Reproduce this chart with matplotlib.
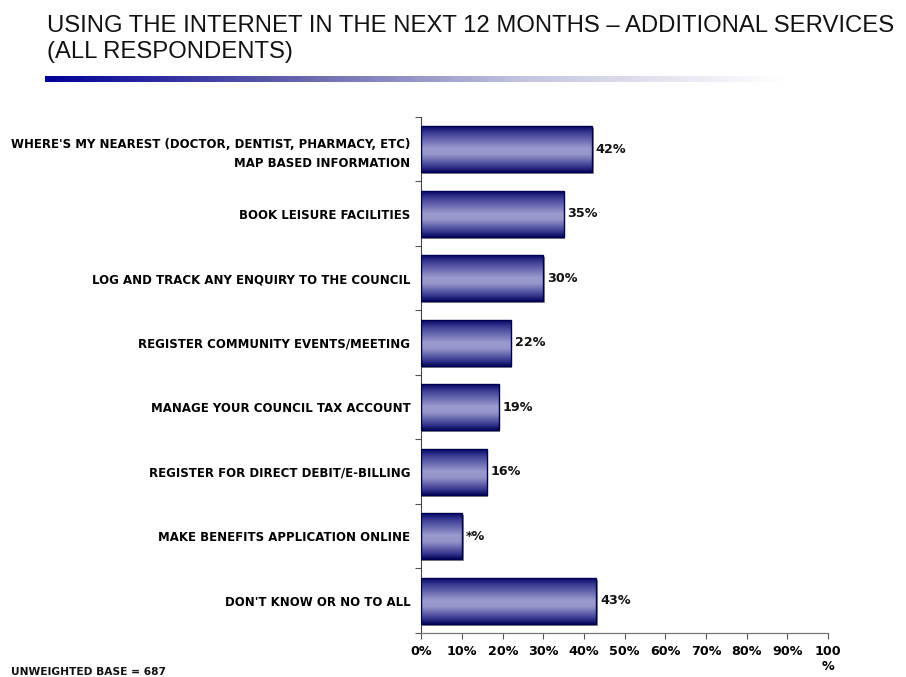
import numpy as np
import matplotlib
matplotlib.use("Agg")
import matplotlib.pyplot as plt
from matplotlib.colors import LinearSegmentedColormap
from matplotlib.patches import Rectangle

categories = [
    "WHERE'S MY NEAREST (DOCTOR, DENTIST, PHARMACY, ETC)\nMAP BASED INFORMATION",
    "BOOK LEISURE FACILITIES",
    "LOG AND TRACK ANY ENQUIRY TO THE COUNCIL",
    "REGISTER COMMUNITY EVENTS/MEETING",
    "MANAGE YOUR COUNCIL TAX ACCOUNT",
    "REGISTER FOR DIRECT DEBIT/E-BILLING",
    "MAKE BENEFITS APPLICATION ONLINE",
    "DON'T KNOW OR NO TO ALL",
]
values = [42, 35, 30, 22, 19, 16, 10, 43]
value_labels = ["42%", "35%", "30%", "22%", "19%", "16%", "*%", "43%"]
x_ticks = [0, 10, 20, 30, 40, 50, 60, 70, 80, 90, 100]
x_tick_labels = ["0%", "10%", "20%", "30%", "40%", "50%", "60%", "70%", "80%", "90%", "100\n%"]

TITLE = "USING THE INTERNET IN THE NEXT 12 MONTHS \u2013 ADDITIONAL SERVICES\n(ALL RESPONDENTS)"
BASE_NOTE = "UNWEIGHTED BASE = 687"

LABEL_FONT = ["DejaVu Sans"]
TITLE_FONT = ["Liberation Sans", "DejaVu Sans"]

bar_cmap = LinearSegmentedColormap.from_list(
    "bar_shade",
    [(0.0, "#0a0a66"), (0.14, "#3c3c94"), (0.48, "#9a9ace"),
     (0.62, "#9696cb"), (0.88, "#3a3a92"), (1.0, "#08085e")],
)

fig = plt.figure(figsize=(9.06, 6.77), dpi=100)
ax = fig.add_axes([0.4652, 0.065, 0.4487, 0.7622])

n = len(categories)
bar_h = 0.713
shade = np.linspace(0, 1, 64).reshape(-1, 1)

for i, (v, lab) in enumerate(zip(values, value_labels)):
    y = i
    top, bot = y - bar_h / 2, y + bar_h / 2
    # grey drop shadow on the right/bottom
    ax.add_patch(Rectangle((0, top + 0.03), v + 0.35, bar_h, facecolor="#8c8c8c",
                           edgecolor="none", zorder=1))
    ax.imshow(shade, cmap=bar_cmap, aspect="auto", extent=[0, v, bot, top],
              interpolation="bicubic", zorder=2)
    ax.add_patch(Rectangle((0, top), v, bar_h, facecolor="none",
                           edgecolor="#000050", linewidth=1.0, zorder=3))
    ax.text(v + 0.9, y, lab, va="center", ha="left", fontsize=9.2,
            fontweight="bold", family=LABEL_FONT, color="#111111")

ax.set_xlim(0, 100)
ax.set_ylim(n - 0.5, -0.5)

ax.set_xticks(x_ticks)
ax.set_xticklabels(x_tick_labels, fontsize=9.2, fontweight="bold",
                   family=LABEL_FONT, linespacing=1.2)
ax.set_yticks(np.arange(n))
ax.set_yticklabels(categories, fontsize=8.5, fontweight="bold",
                   family=LABEL_FONT, ha="right", linespacing=1.6)
ax.tick_params(axis="y", length=0, pad=8)
ax.tick_params(axis="x", length=4, width=0.8, color="#555555", pad=4.5)
for lab in ax.get_xticklabels():
    lab.set_verticalalignment("top")

# category boundary ticks on the value axis
ax.set_yticks(np.arange(n + 1) - 0.5, minor=True)
ax.tick_params(axis="y", which="minor", length=4, width=0.8, color="#555555")

for side in ("top", "right"):
    ax.spines[side].set_visible(False)
ax.spines["left"].set_color("#444444")
ax.spines["bottom"].set_color("#777777")
ax.spines["left"].set_linewidth(0.8)
ax.spines["bottom"].set_linewidth(0.9)

fig.text(0.0515, 0.978, TITLE, ha="left", va="top", fontsize=17.2,
         family=TITLE_FONT, color="#111111", linespacing=1.27)

# fading rule under the heading
rule = fig.add_axes([0.0497, 0.8789, 0.8146, 0.0089])
fade = LinearSegmentedColormap.from_list(
    "rule_fade", [(0.0, "#00009a"), (0.3, "#5858a8"), (0.65, "#c4c4e0"), (1.0, "#ffffff")])
rule.imshow(np.linspace(0, 1, 256).reshape(1, -1), cmap=fade, aspect="auto")
rule.axis("off")

fig.text(0.012, 0.0025, BASE_NOTE, ha="left", va="baseline", fontsize=7.7,
         fontweight="bold", family=LABEL_FONT, color="#111111")

fig.savefig("out.png", dpi=100)
